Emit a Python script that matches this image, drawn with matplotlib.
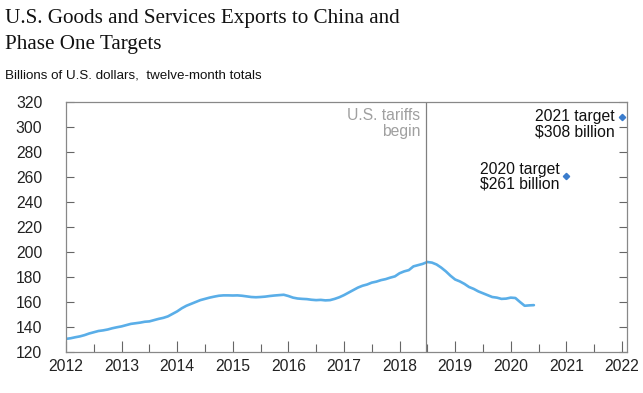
import matplotlib
matplotlib.use("Agg")
import matplotlib.pyplot as plt
import numpy as np

# Monthly twelve-month totals, Jan 2012 .. Jun 2020 (billions USD)
exports_2012 = [130.5, 131.0, 131.8, 132.5, 133.5, 134.8, 135.8, 136.8, 137.3, 138.0, 139.0, 139.8]
exports_2013 = [140.5, 141.5, 142.5, 143.0, 143.5, 144.2, 144.5, 145.5, 146.5, 147.3, 148.5, 150.5]
exports_2014 = [152.5, 155.0, 157.0, 158.5, 160.0, 161.5, 162.5, 163.5, 164.3, 165.0, 165.3, 165.3]
exports_2015 = [165.2, 165.3, 165.0, 164.5, 164.0, 163.8, 164.0, 164.3, 164.8, 165.2, 165.5, 165.8]
exports_2016 = [164.8, 163.5, 162.8, 162.5, 162.3, 161.8, 161.5, 161.7, 161.3, 161.5, 162.5, 163.8]
exports_2017 = [165.5, 167.5, 169.5, 171.5, 173.0, 174.0, 175.5, 176.3, 177.5, 178.3, 179.5, 180.5]
exports_2018 = [183.0, 184.5, 185.5, 188.5, 189.5, 190.5, 192.0, 191.5, 190.0, 187.5, 184.5, 181.0]
exports_2019 = [178.0, 176.5, 174.5, 172.0, 170.5, 168.5, 167.0, 165.5, 164.0, 163.5, 162.5, 162.7]
exports_2020 = [163.5, 163.2, 160.0, 157.0, 157.3, 157.5]
start_year = 2012

target_years = [2021.0, 2022.0]
target_values = [261, 308]
target_labels = ["2020 target\n$261 billion", "2021 target\n$308 billion"]
tariff_date = 2018.47

x_ticks = list(range(2012, 2023))
y_ticks = list(range(120, 321, 20))

values = (exports_2012 + exports_2013 + exports_2014 + exports_2015 + exports_2016
          + exports_2017 + exports_2018 + exports_2019 + exports_2020)
dates = [start_year + i / 12 for i in range(len(values))]

fig = plt.figure(figsize=(6.43, 3.93), dpi=100)
ax = fig.add_axes([0.1026, 0.1043, 0.8724, 0.6362])

ax.plot(dates, values, color="#5aaee8", lw=1.9, solid_capstyle="round")
ax.plot(target_years, target_values, linestyle="none", marker="D", ms=3.2,
        color="#3a7ccc")

ax.axvline(tariff_date, color="#808080", lw=0.9)
ax.text(tariff_date - 0.1, 315, "U.S. tariffs\nbegin", ha="right", va="top",
        color="#a0a0a0", fontsize=11.3, family="Liberation Sans",
        multialignment="right", linespacing=1.05)

ax.text(target_years[1] - 0.13, 308 + 6, target_labels[1], ha="right", va="top",
        color="#111111", fontsize=11.3, family="Liberation Sans",
        multialignment="left", linespacing=1.0)
ax.text(target_years[0] - 0.12, 261 + 11, target_labels[0], ha="right", va="top",
        color="#111111", fontsize=11.3, family="Liberation Sans",
        multialignment="left", linespacing=1.0)

ax.set_xlim(2012, 2022.09)
ax.set_ylim(120, 320)
ax.set_xticks(x_ticks)
ax.set_xticks([y + 0.5 for y in x_ticks[:-1]], minor=True)
ax.set_yticks(y_ticks)
ax.tick_params(axis="y", which="major", direction="in", length=6, width=0.8,
               color="#666666", pad=17, labelsize=11.3, labelcolor="#222222",
               left=True, right=True)
ax.tick_params(axis="x", which="major", direction="in", length=8, width=0.8,
               color="#666666", pad=5, labelsize=11.3, labelcolor="#222222")
ax.tick_params(axis="x", which="minor", direction="in", length=6, width=0.8,
               color="#666666")
for lbl in ax.get_xticklabels() + ax.get_yticklabels():
    lbl.set_family("Liberation Sans")
for s in ax.spines.values():
    s.set_color("#888888")
    s.set_linewidth(0.9)

fig.text(0.008, 0.978, "U.S. Goods and Services Exports to China and\nPhase One Targets",
         ha="left", va="top", fontsize=15.2, family="Liberation Serif",
         color="#111111", linespacing=1.55)
fig.text(0.008, 0.822, "Billions of U.S. dollars,  twelve-month totals",
         ha="left", va="top", fontsize=9.6, family="Liberation Sans",
         color="#111111")

fig.savefig("out.png", dpi=100)
